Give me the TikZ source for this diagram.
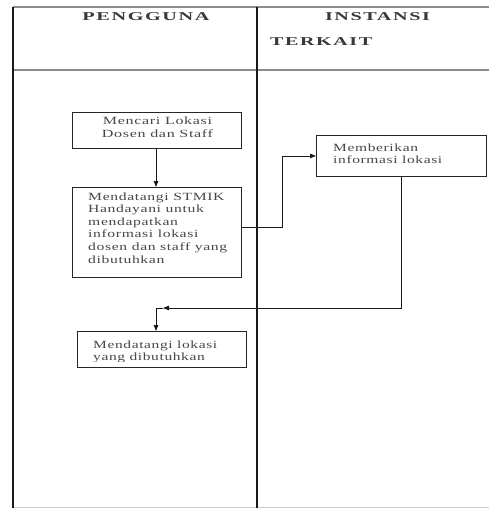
\documentclass[tikz,border=0pt]{standalone}
\usepackage{fontspec}
\setmainfont{Liberation Serif}
\newfontfamily\boxfont[LetterSpace=4]{Liberation Serif}
\newfontfamily\headfont[LetterSpace=8]{Liberation Serif}
\usetikzlibrary{arrows.meta,calc}
\newcommand{\fitw}[2]{\resizebox{#1pt}{\height}{#2}}
\begin{document}
\begin{tikzpicture}[x=1pt,y=-1pt,
  lane/.style={line width=1.4pt,black!90},
  hline/.style={line width=1.4pt,black!45},
  procbox/.style={draw=black!85,line width=0.9pt,rectangle,inner sep=0pt,anchor=north west},
  boxtxt/.style={font=\boxfont\fontsize{11}{12.6}\selectfont,text=black!72,inner sep=0pt},
  headtxt/.style={font=\headfont\bfseries\fontsize{12}{13}\selectfont,text=black!78,inner sep=0pt},
  arr/.style={line width=0.9pt,black!90,-{Triangle[length=6pt,width=4.5pt]}},
  conn/.style={line width=0.9pt,black!90}]
\useasboundingbox (0,0) rectangle (489,509);
% swimlane frame
\draw[hline] (13,7) -- (489,7);
\draw[hline] (13,70) -- (489,70);
\draw[line width=0.8pt,black!20] (13,507.5) -- (489,507.5);
\draw[lane] (13,7) -- (13,508);
\draw[lane] (257,7) -- (257,508);
% headers
\node[headtxt] (h1) at (146,17) {\fitw{127}{PENGGUNA}};
\node[headtxt] (h2) at (377.5,17) {\fitw{105}{INSTANSI}};
\node[headtxt,anchor=west] (h3) at (270,42) {\fitw{102}{TERKAIT}};
% boxes
\node[procbox,minimum width=169,minimum height=36] (b1) at (72,112) {};
\node[boxtxt] (t1) at (157.5,128.5) {\fitw{111}{\begin{tabular}{@{}c@{}}Mencari Lokasi\\Dosen dan Staff\end{tabular}}};
\node[procbox,minimum width=169,minimum height=90] (b2) at (72,187) {};
\node[boxtxt,anchor=north west] (t2) at (88,191) {\fitw{139}{\begin{tabular}{@{}l@{}}Mendatangi STMIK\\Handayani untuk\\mendapatkan\\informasi lokasi\\dosen dan staff yang\\dibutuhkan\end{tabular}}};
\node[procbox,minimum width=170,minimum height=41] (b3) at (316,135) {};
\node[boxtxt,anchor=west] (t3) at (333,155) {\fitw{109}{\begin{tabular}{@{}l@{}}Memberikan\\informasi lokasi\end{tabular}}};
\node[procbox,minimum width=169,minimum height=36] (b4) at (77,331) {};
\begin{scope}
\clip (78,332) rectangle (245,361);
\node[boxtxt,anchor=west] (t4) at (93,352) {\fitw{124}{\begin{tabular}{@{}l@{}}Mendatangi lokasi\\yang dibutuhkan\end{tabular}}};
\end{scope}
% connectors
\coordinate (c1) at (282,227);
\coordinate (c2) at (401,308);
\coordinate (c3) at (156,308);
\coordinate (c3m) at (163,308);
\draw[arr] (b1.south -| c3) -- (b2.north -| c3);
\draw[arr] (b2.east |- c1) -- (c1) |- (b3.west);
\draw[arr] (c2 |- b3.south) -- (c2) -- (c3m);
\draw[arr] (c3m) -- (c3) -- (c3 |- b4.north);
\end{tikzpicture}
\end{document}
